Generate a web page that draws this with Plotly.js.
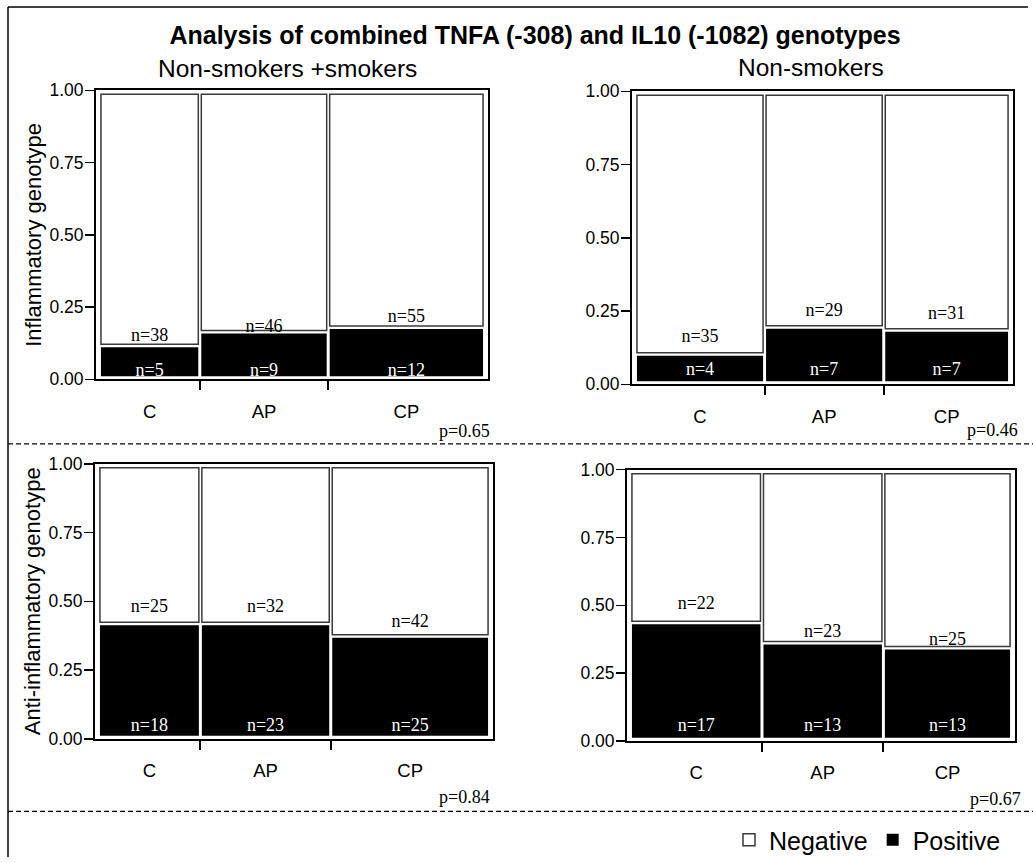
<!DOCTYPE html>
<html>
<head>
<meta charset="utf-8">
<script src="https://cdn.plot.ly/plotly-3.0.1.min.js"></script>
<style>
html,body{margin:0;padding:0;background:#fff;}
#chart{width:1033px;height:863px;}
</style>
</head>
<body>
<div id="chart"></div>
<script>
// ---------------- data ----------------
const categories = ['C', 'AP', 'CP'];
const inflAllNegative = [38, 46, 55];
const inflAllPositive = [5, 9, 12];
const inflNonNegative = [35, 29, 31];
const inflNonPositive = [4, 7, 7];
const antiAllNegative = [25, 32, 42];
const antiAllPositive = [18, 23, 25];
const antiNonNegative = [22, 23, 25];
const antiNonPositive = [17, 13, 13];
const pValues = ['p=0.65', 'p=0.46', 'p=0.84', 'p=0.67'];
const columnTitles = ['Non-smokers +smokers', 'Non-smokers'];
const rowTitles = ['Inflammatory genotype', 'Anti-inflammatory genotype'];
const yTickValues = [0, 0.25, 0.5, 0.75, 1];
const yTickLabels = ['0.00', '0.25', '0.50', '0.75', '1.00'];
const chartTitle = 'Analysis of combined TNFA (-308) and IL10 (-1082) genotypes';
const seriesNames = ['Negative', 'Positive'];

// ---------------- layout helpers ----------------
const W = 1033, H = 863;
const SANS = 'Liberation Sans, Arial, sans-serif';
const SERIF = 'Liberation Serif, Times New Roman, serif';

// pixel boxes and label offsets (styling only)
const panels = [
  {neg: inflAllNegative, pos: inflAllPositive, box: {x0: 96, x1: 488, y0: 91, y1: 382}, p: pValues[0], pPos: [492, 434], row: 0, col: 0, negOff: [9, 5, 10], posOff: 8},
  {neg: inflNonNegative, pos: inflNonPositive, box: {x0: 632, x1: 1013, y0: 92, y1: 387}, p: pValues[1], pPos: [1020, 433], row: 0, col: 1, negOff: [17, 16, 16], posOff: 14},
  {neg: antiAllNegative, pos: antiAllPositive, box: {x0: 95, x1: 493, y0: 467, y1: 744}, p: pValues[2], pPos: [492, 803], row: 1, col: 0, negOff: [16, 16, 14], posOff: 12},
  {neg: antiNonNegative, pos: antiNonPositive, box: {x0: 627, x1: 1015, y0: 473, y1: 746}, p: pValues[3], pPos: [1023, 805], row: 1, col: 1, negOff: [18, 10, 8], posOff: 14}
];

const traces = [];
const layout = {
  width: W, height: H,
  margin: {l: 0, r: 0, t: 0, b: 0},
  paper_bgcolor: '#ffffff',
  plot_bgcolor: 'rgba(0,0,0,0)',
  barmode: 'overlay',
  showlegend: true,
  font: {family: SANS, color: '#000'},
  title: {
    text: chartTitle,
    font: {family: SANS, size: 25, weight: 'bold', color: '#000'},
    x: 535 / W, xanchor: 'center', xref: 'paper',
    y: 1 - 35 / H, yanchor: 'middle', yref: 'paper'
  },
  legend: {
    orientation: 'h', traceorder: 'normal',
    x: 729 / W, xanchor: 'left', y: 1 - 846 / H, yanchor: 'middle',
    font: {family: SANS, size: 25, color: '#000'},
    bgcolor: 'rgba(0,0,0,0)', borderwidth: 0
  },
  annotations: [],
  shapes: []
};

panels.forEach((pn, i) => {
  const k = i + 1;
  const xa = 'x' + (k === 1 ? '' : k), ya = 'y' + (k === 1 ? '' : k);
  const b = pn.box;
  const pw = b.x1 - b.x0, ph = b.y1 - b.y0;
  const padx = 3.5 / pw;
  const ux = (1 + 2 * padx) / pw;   // data units per pixel (x)
  const uy = 1 / ph;                // data units per pixel (y)

  const totals = pn.neg.map((v, j) => v + pn.pos[j]);
  const grand = totals.reduce((a, c) => a + c, 0);
  const fracs = totals.map(t => t / grand);
  const lefts = [];
  let acc = 0;
  fracs.forEach(f => { lefts.push(acc); acc += f; });
  const centers = fracs.map((f, j) => lefts[j] + f / 2);
  const bounds = lefts.slice(1);
  const widths = fracs.map(f => f - 3 * ux);
  const posShare = pn.pos.map((v, j) => v / totals[j]);

  const posBase = posShare.map(() => 3 * uy);
  const posLen = posShare.map(s => s - 4.5 * uy);
  const negBase = posShare.map(s => s + 1.5 * uy);
  const negLen = negBase.map(bs => 1 - 4 * uy - bs);

  traces.push({
    type: 'bar', name: seriesNames[0], legendgroup: 'neg', showlegend: i === 0,
    x: centers, y: negLen, base: negBase, width: widths,
    xaxis: xa, yaxis: ya,
    marker: {color: '#ffffff', line: {color: '#3a3a3a', width: 1.5}},
    hoverinfo: 'skip'
  });
  traces.push({
    type: 'bar', name: seriesNames[1], legendgroup: 'pos', showlegend: i === 0,
    x: centers, y: posLen, base: posBase, width: widths,
    xaxis: xa, yaxis: ya,
    marker: {color: '#000000', line: {color: '#000000', width: 0}},
    hoverinfo: 'skip'
  });
  // count labels
  traces.push({
    type: 'scatter', mode: 'text', showlegend: false, hoverinfo: 'skip',
    xaxis: xa, yaxis: ya, cliponaxis: false,
    x: centers.concat(centers),
    y: posShare.map((s, j) => s + pn.negOff[j] * uy).concat(posShare.map(() => pn.posOff * uy)),
    text: pn.neg.map(v => 'n=' + v).concat(pn.pos.map(v => 'n=' + v)),
    textposition: 'middle center',
    textfont: {family: SERIF, size: 18, color: ['#000', '#000', '#000', '#fff', '#fff', '#fff']}
  });

  layout['xaxis' + (k === 1 ? '' : k)] = {
    domain: [b.x0 / W, b.x1 / W], anchor: ya,
    range: [-padx, 1 + padx], fixedrange: true,
    tickmode: 'array', tickvals: centers, ticktext: categories,
    ticks: 'outside', ticklen: 14, tickcolor: 'rgba(0,0,0,0)',
    tickfont: {family: SANS, size: 18.5, color: '#000'},
    showline: true, linewidth: 2, linecolor: '#000', mirror: true,
    showgrid: false, zeroline: false,
    minor: {tickmode: 'array', tickvals: bounds, ticks: 'outside', ticklen: 9, tickwidth: 2, tickcolor: '#000', showgrid: false}
  };
  const yax = {
    domain: [1 - b.y1 / H, 1 - b.y0 / H], anchor: xa,
    range: [0, 1], fixedrange: true,
    tickmode: 'array', tickvals: yTickValues, ticktext: yTickLabels,
    ticks: 'outside', ticklen: 9, tickwidth: 1.5, tickcolor: '#000',
    ticklabelstandoff: -2,
    tickfont: {family: SANS, size: 17.5, color: '#000'},
    showline: true, linewidth: 2, linecolor: '#000', mirror: true,
    showgrid: false, zeroline: false
  };
  if (pn.col === 0) {
    yax.title = {text: rowTitles[pn.row], font: {family: SANS, size: 22, color: '#000'}};
  }
  layout['yaxis' + (k === 1 ? '' : k)] = yax;

  layout.annotations.push({
    xref: 'paper', yref: 'paper', x: pn.pPos[0] / W, y: 1 - pn.pPos[1] / H,
    xanchor: 'right', yanchor: 'middle', showarrow: false,
    text: pn.p, font: {family: SERIF, size: 18, color: '#000'}
  });
});

// column titles
layout.annotations.push({
  xref: 'paper', yref: 'paper', x: 287 / W, y: 1 - 69 / H, xanchor: 'center', yanchor: 'middle',
  showarrow: false, text: columnTitles[0], font: {family: SANS, size: 24.5, color: '#000'}
});
layout.annotations.push({
  xref: 'paper', yref: 'paper', x: 811 / W, y: 1 - 68 / H, xanchor: 'center', yanchor: 'middle',
  showarrow: false, text: columnTitles[1], font: {family: SANS, size: 24.5, color: '#000'}
});

// frame and separators
layout.shapes.push({type: 'line', xref: 'paper', yref: 'paper', x0: 8 / W, x1: 1028 / W, y0: 1 - 7 / H, y1: 1 - 7 / H, line: {color: '#000', width: 1.5}});
layout.shapes.push({type: 'line', xref: 'paper', yref: 'paper', x0: 8 / W, x1: 8 / W, y0: 1 - 7 / H, y1: 0, line: {color: '#000', width: 1.5}});
layout.shapes.push({type: 'line', xref: 'paper', yref: 'paper', x0: 8 / W, x1: 1, y0: 1 - 447 / H, y1: 1 - 447 / H, line: {color: '#000', width: 1.2, dash: '5px,3px'}});
layout.shapes.push({type: 'line', xref: 'paper', yref: 'paper', x0: 8 / W, x1: 1, y0: 1 - 817 / H, y1: 1 - 817 / H, line: {color: '#000', width: 1.2, dash: '5px,3px'}});

Plotly.newPlot('chart', traces, layout, {displayModeBar: false, staticPlot: true});
</script>
</body>
</html>
